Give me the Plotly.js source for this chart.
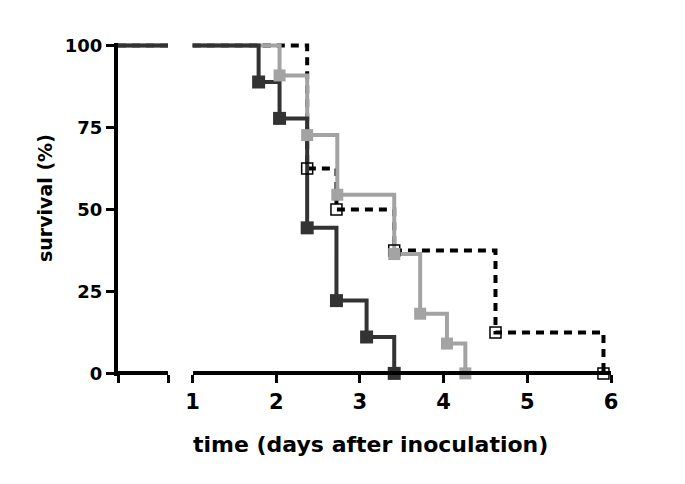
<!DOCTYPE html>
<html>
<head>
<meta charset="utf-8">
<script src="https://cdn.plot.ly/plotly-3.0.1.min.js"></script>
<style>html,body{margin:0;padding:0;background:#fff;}#chart{width:685px;height:484px;}</style>
</head>
<body>
<div id="chart"></div>
<script>
// Kaplan-Meier data (time in days, survival in %)
const startTime = 0;
const startSurvival = 100;
const darkTimes = [1.79, 2.04, 2.37, 2.72, 3.08, 3.41];
const darkSurvival = [88.9, 77.8, 44.4, 22.2, 11.1, 0];
const grayTimes = [2.04, 2.37, 2.73, 3.41, 3.72, 4.04, 4.26];
const graySurvival = [90.9, 72.7, 54.5, 36.4, 18.2, 9.1, 0];
const dotTimes = [2.37, 2.72, 3.41, 4.62, 5.91];
const dotSurvival = [62.5, 50, 37.5, 12.5, 0];
const xTickVals = [1, 2, 3, 4, 5, 6];
const xTickText = ['1', '2', '3', '4', '5', '6'];
const yTickVals = [0, 25, 50, 75, 100];
const yTickText = ['0', '25', '50', '75', '100'];
const xTitle = 'time (days after inoculation)';
const yTitle = 'survival (%)';

const series = [
  {t: dotTimes, s: dotSurvival, color: '#000000', dash: '8px,6px', sym: 'square-open', size: 11, mline: 1.5},
  {t: grayTimes, s: graySurvival, color: '#a3a3a3', dash: 'solid', sym: 'square', size: 12, mline: 0},
  {t: darkTimes, s: darkSurvival, color: '#333333', dash: 'solid', sym: 'square', size: 13, mline: 0}
];

const traces = [];
['x', 'x2'].forEach(function (ax) {
  series.forEach(function (sr) {
    traces.push({
      type: 'scatter', mode: 'lines', xaxis: ax, yaxis: 'y',
      x: [startTime].concat(sr.t), y: [startSurvival].concat(sr.s),
      line: {shape: 'hv', color: sr.color, width: 4, dash: sr.dash},
      hoverinfo: 'skip', showlegend: false
    });
  });
});
series.forEach(function (sr) {
  traces.push({
    type: 'scatter', mode: 'markers', xaxis: 'x2', yaxis: 'y',
    x: sr.t, y: sr.s, cliponaxis: false,
    marker: {symbol: sr.sym, size: sr.size, color: sr.color,
             line: {color: sr.color, width: sr.mline}},
    showlegend: false
  });
});

const font = {family: 'DejaVu Sans', weight: 'bold', color: '#000'};
const plotW = 685 - 118 - 74;
const plotH = 484 - 43 - 108;
const axPos = 2.6 / plotH;

const common = {
  showline: true, linewidth: 4, linecolor: '#000', ticks: 'outside',
  ticklen: 8, tickwidth: 3, tickcolor: '#000', showgrid: false, zeroline: false,
  anchor: 'free', position: axPos, fixedrange: true
};

const layout = {
  width: 685, height: 484,
  margin: {l: 118, r: 74, t: 43, b: 108},
  paper_bgcolor: '#fff', plot_bgcolor: '#fff',
  showlegend: false,
  xaxis: Object.assign({}, common, {
    domain: [0, 50 / plotW], range: [0, 0.6],
    tickmode: 'array', tickvals: [0, 0.6], showticklabels: false
  }),
  xaxis2: Object.assign({}, common, {
    domain: [(192.5 - 118) / plotW, 1], range: [1, 6],
    tickmode: 'array', tickvals: xTickVals, ticktext: xTickText,
    tickfont: Object.assign({size: 21}, font)
  }),
  yaxis: {
    domain: [0, 1], range: [-0.8, 100.8], anchor: 'x',
    showline: true, linewidth: 4, linecolor: '#000', ticks: 'outside',
    ticklen: 8, tickwidth: 3, tickcolor: '#000', showgrid: false, zeroline: false,
    tickmode: 'array', tickvals: yTickVals, ticktext: yTickText,
    tickfont: Object.assign({size: 18}, font), fixedrange: true
  },
  annotations: [
    {text: xTitle, xref: 'paper', yref: 'paper', x: (370 - 118) / plotW, y: (376 - 444) / plotH,
     xanchor: 'center', yanchor: 'middle', showarrow: false, font: Object.assign({size: 22}, font)},
    {text: yTitle, xref: 'paper', yref: 'paper', x: (45 - 118) / plotW, y: (376 - 198) / plotH,
     xanchor: 'center', yanchor: 'middle', textangle: -90, showarrow: false,
     font: Object.assign({size: 19}, font)}
  ]
};

Plotly.newPlot('chart', traces, layout, {displayModeBar: false, staticPlot: true});
</script>
</body>
</html>
